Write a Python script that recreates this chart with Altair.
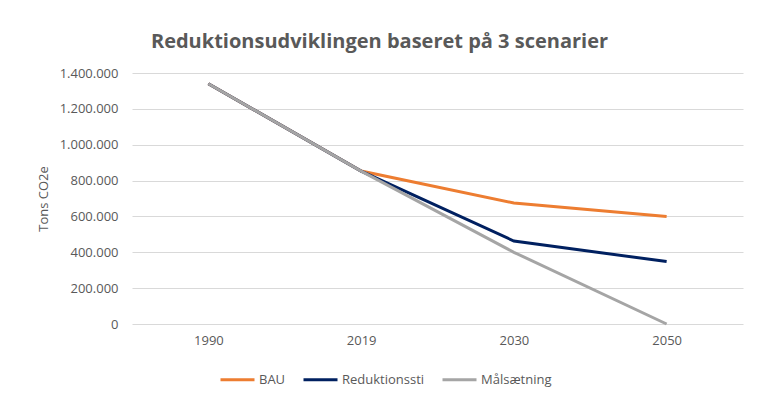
import altair as alt
import pandas as pd

years = ["1990", "2019", "2030", "2050"]
series = ["BAU", "Reduktionssti", "Målsætning"]
bau = [1340000, 853000, 675000, 600000]
reduktionssti = [1340000, 853000, 463000, 348000]
maalsaetning = [1340000, 853000, 400000, 0]
colors = ["#ED7D31", "#002060", "#A5A5A5"]
y_ticks = [0, 200000, 400000, 600000, 800000, 1000000, 1200000, 1400000]

rows = []
for name, vals in zip(series, [bau, reduktionssti, maalsaetning]):
    for yr, v in zip(years, vals):
        rows.append({"År": yr, "Scenarie": name, "Tons": v})
df = pd.DataFrame(rows)

FONT = "Open Sans"
GREY = "#595959"

chart = alt.Chart(df).mark_line(strokeWidth=3).encode(
    x=alt.X("År:N", sort=years,
            scale=alt.Scale(type="point", padding=0.5),
            axis=alt.Axis(title=None, labelAngle=0, ticks=False, domain=False,
                          grid=False, labelPadding=10, labelFontSize=13,
                          labelColor=GREY, labelFont=FONT)),
    y=alt.Y("Tons:Q", scale=alt.Scale(domain=[0, 1400000], nice=False),
            axis=alt.Axis(title="Tons CO2e", values=y_ticks, ticks=False, tickSize=0,
                          domain=False, gridColor="#D9D9D9", gridWidth=1,
                          labelPadding=14, labelFontSize=13, labelColor=GREY,
                          labelFont=FONT,
                          labelExpr="replace(format(datum.value, ','), /,/g, '.')",
                          titleFont=FONT, titleFontSize=13, titleColor=GREY,
                          titleFontWeight="normal", titlePadding=9)),
    color=alt.Color("Scenarie:N", sort=series,
                    scale=alt.Scale(domain=series, range=colors),
                    legend=alt.Legend(title=None, orient="none", legendX=87, legendY=288,
                                      direction="horizontal", symbolType="stroke",
                                      symbolSize=1156, symbolStrokeWidth=3,
                                      labelFontSize=13, labelColor=GREY, labelFont=FONT,
                                      labelOffset=3, columnPadding=11)),
    order=alt.Order("Scenarie:N"),
).properties(
    width=611,
    height=251,
    title=alt.TitleParams("Reduktionsudviklingen baseret på 3 scenarier",
                          font=FONT, fontSize=20, fontWeight="bold", color=GREY,
                          anchor="middle", dx=-58, offset=15),
    padding={"left": 124, "top": 65, "right": 8, "bottom": 71},
    autosize=alt.AutoSizeParams(type="none"),
    background="white",
).configure_view(stroke=None)

chart.save("out.html", embed_options={"renderer": "svg", "actions": False})
